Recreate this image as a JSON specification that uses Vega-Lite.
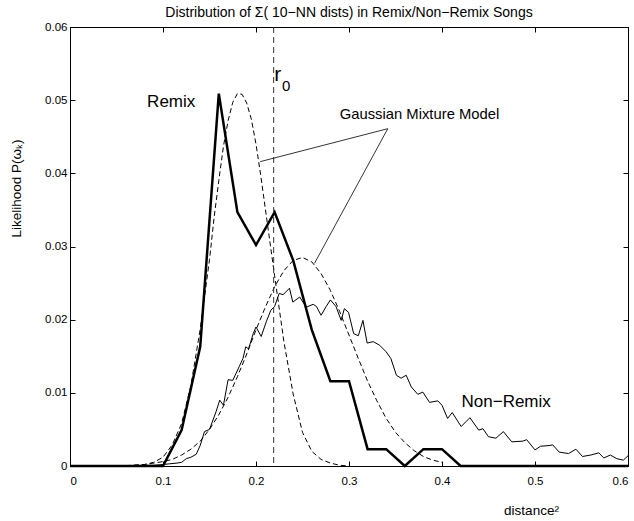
{
  "$schema": "https://vega.github.io/schema/vega-lite/v6.json",
  "width": 558,
  "height": 439,
  "autosize": {"type": "none"},
  "padding": {"left": 70, "top": 27, "right": 6, "bottom": 55},
  "background": "white",
  "config": {
    "view": {"stroke": "black", "strokeWidth": 1},
    "font": "Liberation Sans",
    "axis": {
      "domainColor": "black", "tickColor": "black", "labelColor": "black", "titleColor": "black",
      "grid": false, "labelFont": "Liberation Sans", "labelFontSize": 11.5,
      "titleFont": "Liberation Sans", "titleFontWeight": "normal", "titleFontSize": 13.5,
      "tickSize": -5, "domainWidth": 1, "tickWidth": 1
    }
  },
  "title": {"text": "Distribution of Σ( 10−NN dists) in Remix/Non−Remix Songs", "font": "Liberation Sans", "fontSize": 14, "fontWeight": "normal", "color": "black", "offset": 1},
  "datasets": {
    "nonremix": [
      {"x":0,"y":0},{"x":0.05,"y":0},{"x":0.07,"y":0.00005},{"x":0.08,"y":0.0001},{"x":0.09,"y":0.0001},{"x":0.1,"y":0.0002},{"x":0.107,"y":0.0003},{"x":0.115,"y":0.0004},{"x":0.12,"y":0.0005},{"x":0.125,"y":0.001},{"x":0.13,"y":0.0012},{"x":0.1357,"y":0.0016},{"x":0.14,"y":0.0028},{"x":0.1446,"y":0.0047},{"x":0.15,"y":0.005},{"x":0.157,"y":0.0074},{"x":0.161,"y":0.009},{"x":0.165,"y":0.0083},{"x":0.17,"y":0.0118},{"x":0.175,"y":0.0117},{"x":0.182,"y":0.0136},{"x":0.186,"y":0.0147},{"x":0.189,"y":0.0163},{"x":0.192,"y":0.016},{"x":0.197,"y":0.0181},{"x":0.2,"y":0.019},{"x":0.2056,"y":0.0177},{"x":0.211,"y":0.0197},{"x":0.216,"y":0.0213},{"x":0.22,"y":0.0218},{"x":0.225,"y":0.0236},{"x":0.229,"y":0.0234},{"x":0.236,"y":0.0243},{"x":0.2396,"y":0.0224},{"x":0.247,"y":0.0231},{"x":0.254,"y":0.0217},{"x":0.2615,"y":0.0221},{"x":0.265,"y":0.0218},{"x":0.27,"y":0.0206},{"x":0.2755,"y":0.0218},{"x":0.28,"y":0.0227},{"x":0.286,"y":0.0218},{"x":0.2916,"y":0.0199},{"x":0.295,"y":0.0215},{"x":0.2995,"y":0.021},{"x":0.305,"y":0.0181},{"x":0.31,"y":0.0178},{"x":0.315,"y":0.0199},{"x":0.3195,"y":0.0168},{"x":0.326,"y":0.017},{"x":0.333,"y":0.0165},{"x":0.34,"y":0.0156},{"x":0.345,"y":0.0147},{"x":0.351,"y":0.0124},{"x":0.356,"y":0.012},{"x":0.3615,"y":0.0124},{"x":0.367,"y":0.0108},{"x":0.374,"y":0.0098},{"x":0.3794,"y":0.0101},{"x":0.3866,"y":0.0087},{"x":0.3955,"y":0.0089},{"x":0.4,"y":0.0083},{"x":0.406,"y":0.0065},{"x":0.411,"y":0.0073},{"x":0.4206,"y":0.0054},{"x":0.43,"y":0.0066},{"x":0.4395,"y":0.0049},{"x":0.444,"y":0.0051},{"x":0.45,"y":0.004},{"x":0.458,"y":0.0038},{"x":0.466,"y":0.0047},{"x":0.475,"y":0.0033},{"x":0.487,"y":0.0034},{"x":0.491,"y":0.0036},{"x":0.5,"y":0.0022},{"x":0.506,"y":0.0027},{"x":0.516,"y":0.0028},{"x":0.519,"y":0.0029},{"x":0.526,"y":0.0019},{"x":0.536,"y":0.0017},{"x":0.544,"y":0.0023},{"x":0.551,"y":0.0013},{"x":0.56,"y":0.0015},{"x":0.5686,"y":0.0018},{"x":0.574,"y":0.0011},{"x":0.581,"y":0.0015},{"x":0.588,"y":0.001},{"x":0.595,"y":0.0008},{"x":0.6,"y":0.0014}
    ],
    "remix": [
      {"x":0,"y":0},{"x":0.1,"y":0},{"x":0.12,"y":0.0049},{"x":0.14,"y":0.0163},{"x":0.16,"y":0.0509},{"x":0.18,"y":0.0347},{"x":0.2,"y":0.0302},{"x":0.22,"y":0.0347},{"x":0.24,"y":0.0281},{"x":0.26,"y":0.0186},{"x":0.28,"y":0.0116},{"x":0.3,"y":0.0116},{"x":0.32,"y":0.0023},{"x":0.34,"y":0.0023},{"x":0.36,"y":0},{"x":0.38,"y":0.0023},{"x":0.4,"y":0.0023},{"x":0.42,"y":0},{"x":0.6,"y":0}
    ],
    "gmm1": [
      {"x":0.06,"y":0},{"x":0.08,"y":0.0002},{"x":0.09,"y":0.0005},{"x":0.1,"y":0.0012},{"x":0.11,"y":0.0029},{"x":0.12,"y":0.0058},{"x":0.13,"y":0.011},{"x":0.14,"y":0.0187},{"x":0.15,"y":0.0282},{"x":0.155,"y":0.034},{"x":0.16,"y":0.039},{"x":0.165,"y":0.0437},{"x":0.17,"y":0.0472},{"x":0.175,"y":0.0497},{"x":0.18,"y":0.0509},{"x":0.185,"y":0.0508},{"x":0.19,"y":0.0496},{"x":0.195,"y":0.0474},{"x":0.2,"y":0.044},{"x":0.205,"y":0.0398},{"x":0.21,"y":0.0352},{"x":0.215,"y":0.0306},{"x":0.22,"y":0.026},{"x":0.23,"y":0.017},{"x":0.24,"y":0.0098},{"x":0.25,"y":0.0046},{"x":0.26,"y":0.002},{"x":0.27,"y":0.0009},{"x":0.28,"y":0.0004},{"x":0.29,"y":0.0001},{"x":0.3,"y":0}
    ],
    "gmm2": [
      {"x":0.06,"y":0.00005},{"x":0.08,"y":0.0002},{"x":0.1,"y":0.0006},{"x":0.11,"y":0.0009},{"x":0.12,"y":0.0015},{"x":0.13,"y":0.0023},{"x":0.14,"y":0.0034},{"x":0.15,"y":0.005},{"x":0.16,"y":0.007},{"x":0.17,"y":0.0094},{"x":0.18,"y":0.0122},{"x":0.19,"y":0.0153},{"x":0.2,"y":0.0186},{"x":0.21,"y":0.0217},{"x":0.22,"y":0.0245},{"x":0.23,"y":0.0267},{"x":0.24,"y":0.0281},{"x":0.25,"y":0.0285},{"x":0.26,"y":0.0279},{"x":0.27,"y":0.0263},{"x":0.28,"y":0.024},{"x":0.29,"y":0.0211},{"x":0.3,"y":0.0179},{"x":0.31,"y":0.0147},{"x":0.32,"y":0.0116},{"x":0.33,"y":0.0089},{"x":0.34,"y":0.0065},{"x":0.35,"y":0.0046},{"x":0.36,"y":0.0032},{"x":0.37,"y":0.0021},{"x":0.38,"y":0.0013},{"x":0.39,"y":0.0008},{"x":0.4,"y":0.0005}
    ],
    "pointers": [
      {"x":0.3417,"y":0.0461,"x2":0.2045,"y2":0.0416},
      {"x":0.3417,"y":0.0461,"x2":0.2629,"y2":0.0277}
    ],
    "biglabels": [
      {"x":0.1088,"y":0.0498,"text":"Remix"},
      {"x":0.469,"y":0.0088,"text":"Non−Remix"}
    ],
    "gmmlabel": [{"x":0.3758,"y":0.048,"text":"Gaussian Mixture Model"}],
    "r0": [{"x":0.219}],
    "rlabel": [{"x":0.2235,"y":0.0534,"text":"r"}],
    "r0sub": [{"x":0.2325,"y":0.052,"text":"0"}]
  },
  "layer": [
    {
      "data": {"name": "nonremix"},
      "mark": {"type": "line", "color": "black", "strokeWidth": 1},
      "encoding": {
        "x": {"field": "x", "type": "quantitative", "scale": {"domain": [0, 0.6], "nice": false},
              "axis": {"orient": "bottom", "values": [0,0.1,0.2,0.3,0.4,0.5,0.6], "format": "~g", "labelPadding": 14, "title": "distance²", "titleX": 461, "titleY": 44, "titleAlign": "center", "titleBaseline": "middle"}},
        "y": {"field": "y", "type": "quantitative", "scale": {"domain": [0, 0.06], "nice": false},
              "axis": {"orient": "left", "values": [0,0.01,0.02,0.03,0.04,0.05,0.06], "format": "~g", "labelPadding": 8, "title": "Likelihood P(ωₖ)", "titleX": -54, "titleY": 161, "titleAlign": "center", "titleBaseline": "middle"}}
      }
    },
    {
      "data": {"name": "remix"},
      "mark": {"type": "line", "color": "black", "strokeWidth": 2.5, "strokeJoin": "miter"},
      "encoding": {
        "x": {"field": "x", "type": "quantitative", "scale": {"domain": [0, 0.6], "nice": false},
              "axis": {"orient": "top", "values": [0,0.1,0.2,0.3,0.4,0.5,0.6], "labels": false, "title": null}},
        "y": {"field": "y", "type": "quantitative", "scale": {"domain": [0, 0.06], "nice": false},
              "axis": {"orient": "right", "values": [0,0.01,0.02,0.03,0.04,0.05,0.06], "labels": false, "title": null}}
      }
    },
    {
      "data": {"name": "gmm1"},
      "mark": {"type": "line", "color": "black", "strokeWidth": 1, "strokeDash": [5, 3]},
      "encoding": {
        "x": {"field": "x", "type": "quantitative", "axis": null},
        "y": {"field": "y", "type": "quantitative", "axis": null}
      }
    },
    {
      "data": {"name": "gmm2"},
      "mark": {"type": "line", "color": "black", "strokeWidth": 1, "strokeDash": [5, 3]},
      "encoding": {
        "x": {"field": "x", "type": "quantitative", "axis": null},
        "y": {"field": "y", "type": "quantitative", "axis": null}
      }
    },
    {
      "data": {"name": "r0"},
      "mark": {"type": "rule", "color": "#333333", "strokeWidth": 1, "strokeDash": [6, 4]},
      "encoding": {
        "x": {"field": "x", "type": "quantitative", "axis": null}
      }
    },
    {
      "data": {"name": "pointers"},
      "mark": {"type": "rule", "color": "black", "strokeWidth": 0.8},
      "encoding": {
        "x": {"field": "x", "type": "quantitative", "axis": null},
        "y": {"field": "y", "type": "quantitative", "axis": null},
        "x2": {"field": "x2"},
        "y2": {"field": "y2"}
      }
    },
    {
      "data": {"name": "biglabels"},
      "mark": {"type": "text", "fontSize": 17, "font": "Liberation Sans", "color": "black", "align": "center", "baseline": "middle"},
      "encoding": {
        "x": {"field": "x", "type": "quantitative", "axis": null},
        "y": {"field": "y", "type": "quantitative", "axis": null},
        "text": {"field": "text"}
      }
    },
    {
      "data": {"name": "gmmlabel"},
      "mark": {"type": "text", "fontSize": 14.8, "font": "Liberation Sans", "color": "black", "align": "center", "baseline": "middle"},
      "encoding": {
        "x": {"field": "x", "type": "quantitative", "axis": null},
        "y": {"field": "y", "type": "quantitative", "axis": null},
        "text": {"field": "text"}
      }
    },
    {
      "data": {"name": "rlabel"},
      "mark": {"type": "text", "fontSize": 21, "font": "Liberation Sans", "color": "black", "align": "center", "baseline": "middle"},
      "encoding": {
        "x": {"field": "x", "type": "quantitative", "axis": null},
        "y": {"field": "y", "type": "quantitative", "axis": null},
        "text": {"field": "text"}
      }
    },
    {
      "data": {"name": "r0sub"},
      "mark": {"type": "text", "fontSize": 15, "font": "Liberation Sans", "color": "black", "align": "center", "baseline": "middle"},
      "encoding": {
        "x": {"field": "x", "type": "quantitative", "axis": null},
        "y": {"field": "y", "type": "quantitative", "axis": null},
        "text": {"field": "text"}
      }
    }
  ],
  "resolve": {"axis": {"x": "independent", "y": "independent"}}
}
